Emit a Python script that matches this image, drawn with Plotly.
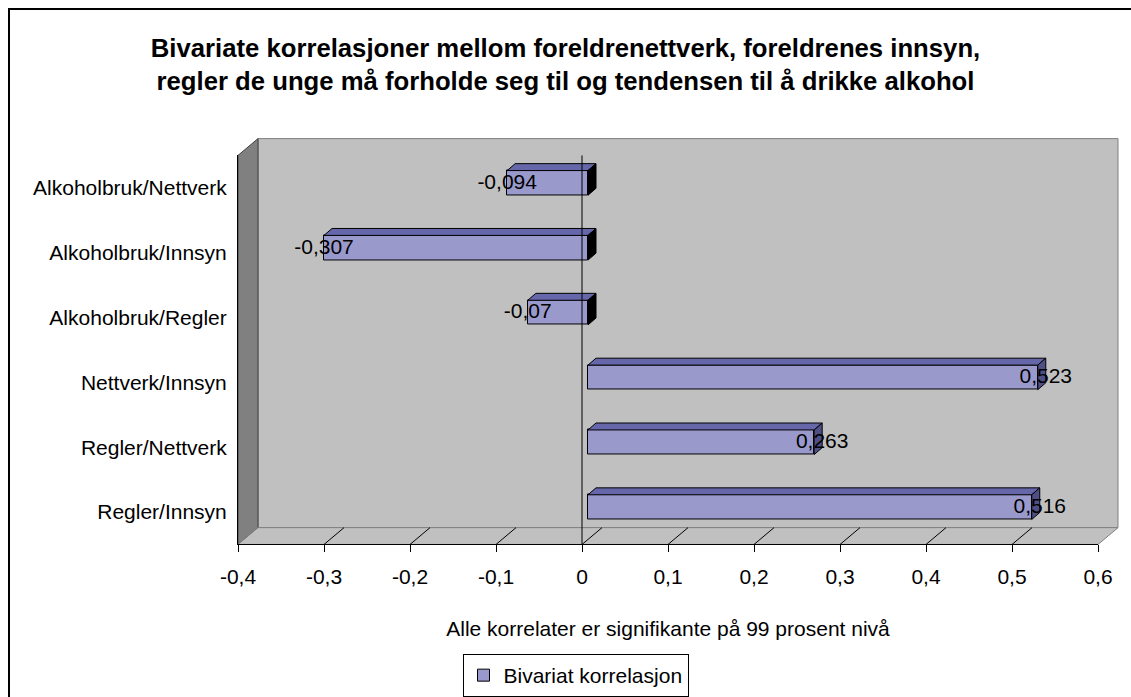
import plotly.graph_objects as go

# ---------------- data ----------------
categories = ["Alkoholbruk/Nettverk", "Alkoholbruk/Innsyn", "Alkoholbruk/Regler",
              "Nettverk/Innsyn", "Regler/Nettverk", "Regler/Innsyn"]
values = [-0.094, -0.307, -0.07, 0.523, 0.263, 0.516]
x_ticks = [-0.4, -0.3, -0.2, -0.1, 0, 0.1, 0.2, 0.3, 0.4, 0.5, 0.6]
x_tick_labels = [f"{t:g}".replace(".", ",") for t in x_ticks]
value_labels = [f"{v:g}".replace(".", ",") for v in values]
series_name = "Bivariat korrelasjon"
title_text = ("Bivariate korrelasjoner mellom foreldrenettverk, foreldrenes innsyn,<br>"
              "regler de unge må forholde seg til og tendensen til å drikke alkohol")
x_title = "Alle korrelater er signifikante på 99 prosent nivå"

# ---------------- geometry / style ----------------
W, H = 1131, 697
FONT = "Liberation Sans, Arial, sans-serif"
XMIN, XMAX = x_ticks[0], x_ticks[-1]
n = len(categories)
positions = list(range(n))
YRANGE = [n - 0.5, -0.5]
boundaries = [i - 0.5 for i in range(n + 1)]

FL, FR, FT, FB = 238, 1098, 157, 550      # front plane (px)
BX, BY = 20, -17                          # back wall offset (px)
SX, SY = 6, -5                            # bar plane offset (px)
DX, DY = 8, -7                            # bar depth (px)
BAR_W = 0.38

FRONT_C = "#9999CC"
TOP_C = "#6666AA"
SIDE_POS_C = "#4F4F85"
SIDE_NEG_C = "#000000"
WALL_C = "#C0C0C0"
SIDE_WALL_C = "#808080"


def xp(px):
    return px / W


def yp(py):
    return 1 - py / H


px_per_x = (FR - FL) / (XMAX - XMIN)
px_per_cat = (FB - FT) / n


def x_front(v):
    return FL + (v - XMIN) * px_per_x


def path(pts):
    return "M " + " L ".join(f"{xp(a):.5f},{yp(b):.5f}" for a, b in pts) + " Z"


dx = DX / px_per_x
dy = -DY / px_per_cat

fig = go.Figure()

# front faces of the bars
fig.add_trace(go.Bar(
    x=values, y=positions, orientation="h", width=BAR_W,
    marker=dict(color=FRONT_C, line=dict(color="black", width=1)),
    name=series_name, xaxis="x3", yaxis="y3", showlegend=True,
    hoverinfo="skip",
))

# top faces and side faces
top_x, top_y = [], []
pos_x, pos_y = [], []
neg_x, neg_y = [], []
for i, v in zip(positions, values):
    a, b = min(0, v), max(0, v)
    yt, yb = i - BAR_W / 2, i + BAR_W / 2
    top_x += [a, b, b + dx, a + dx, a, None]
    top_y += [yt, yt, yt - dy, yt - dy, yt, None]
    sx = [b, b + dx, b + dx, b, b, None]
    sy = [yt, yt - dy, yb - dy, yb, yt, None]
    if v > 0:
        pos_x += sx
        pos_y += sy
    else:
        neg_x += sx
        neg_y += sy

for xs, ys, col in [(top_x, top_y, TOP_C), (pos_x, pos_y, SIDE_POS_C), (neg_x, neg_y, SIDE_NEG_C)]:
    fig.add_trace(go.Scatter(
        x=xs, y=ys, mode="lines", fill="toself", fillcolor=col,
        line=dict(color="black", width=1), xaxis="x3", yaxis="y3",
        showlegend=False, hoverinfo="skip",
    ))

# data labels
lab_x = [v + dx if v > 0 else v for v in values]
fig.add_trace(go.Scatter(
    x=lab_x, y=[p + 0.01 for p in positions], mode="text", text=value_labels,
    textposition="middle center", textfont=dict(family=FONT, size=21, color="black"),
    xaxis="x3", yaxis="y3", showlegend=False, hoverinfo="skip",
))

# ---------------- decorations (walls / floor) ----------------
shapes = []
shapes.append(dict(type="rect", xref="paper", yref="paper",
                   x0=xp(9), y0=yp(9), x1=xp(W + 10), y1=yp(H + 10),
                   line=dict(color="black", width=2), fillcolor="white", layer="below"))
shapes.append(dict(type="rect", xref="paper", yref="paper",
                   x0=xp(FL + BX), y0=yp(FB + BY), x1=xp(FR + BX), y1=yp(FT + BY),
                   line=dict(color=SIDE_WALL_C, width=1), fillcolor=WALL_C, layer="below"))
shapes.append(dict(type="path", xref="paper", yref="paper",
                   path=path([(FL, FT), (FL + BX, FT + BY), (FL + BX, FB + BY), (FL, FB)]),
                   line=dict(color="#404040", width=1), fillcolor=SIDE_WALL_C, layer="below"))
shapes.append(dict(type="path", xref="paper", yref="paper",
                   path=path([(FL, FB), (FL + BX, FB + BY), (FR + BX, FB + BY), (FR, FB)]),
                   line=dict(color=SIDE_WALL_C, width=1), fillcolor=WALL_C, layer="below"))
for t in x_ticks[1:-1]:
    x0 = x_front(t)
    shapes.append(dict(type="line", xref="paper", yref="paper",
                       x0=xp(x0), y0=yp(FB), x1=xp(x0 + BX), y1=yp(FB + BY),
                       line=dict(color="black", width=1), layer="below"))
# category axis crossing at zero, drawn above the bars
shapes.append(dict(type="line", xref="x", yref="y domain", x0=0, x1=0, y0=0, y1=1,
                   line=dict(color="black", width=1), layer="above"))

axis_common = dict(showgrid=False, zeroline=False, fixedrange=True)

fig.update_layout(
    width=W, height=H, autosize=False,
    margin=dict(l=0, r=0, t=0, b=0, pad=0),
    paper_bgcolor="white", plot_bgcolor="rgba(0,0,0,0)",
    font=dict(family=FONT, size=21, color="black"),
    title=dict(text=title_text, x=0.5, xanchor="center", y=yp(57), yanchor="top",
               font=dict(family=FONT, size=25.7, color="black", weight="bold")),
    shapes=shapes,
    bargap=0,
    # front plane
    xaxis=dict(domain=[xp(FL), xp(FR)], range=[XMIN, XMAX], anchor="y",
               tickvals=x_ticks, ticktext=x_tick_labels, ticks="outside", ticklen=7,
               tickcolor="black", showline=True, linecolor="black",
               ticklabelstandoff=6,
               tickfont=dict(size=21, color="black"), automargin=False,
               title=dict(text=x_title, font=dict(size=21, color="black"), standoff=34),
               **axis_common),
    yaxis=dict(domain=[yp(FB), yp(FT)], range=YRANGE, anchor="x",
               tickvals=positions, ticktext=categories, ticks="",
               showline=True, linecolor="black", ticklabelstandoff=6, automargin=False,
               tickfont=dict(size=21, color="black"), **axis_common),
    # back wall grid
    xaxis2=dict(domain=[xp(FL + BX), xp(FR + BX)], range=[XMIN, XMAX], anchor="y2",
                tickvals=x_ticks[1:-1], showticklabels=False, ticks="",
                showgrid=True, gridcolor="black", gridwidth=1, zeroline=False,
                showline=False, fixedrange=True),
    yaxis2=dict(domain=[yp(FB + BY), yp(FT + BY)], range=YRANGE, anchor="x2",
                showticklabels=False, ticks="", showline=False, **axis_common),
    # bar plane
    xaxis3=dict(domain=[xp(FL + SX), xp(FR + SX)], range=[XMIN, XMAX], anchor="y3",
                showticklabels=False, ticks="", showline=False, **axis_common),
    yaxis3=dict(domain=[yp(FB + SY), yp(FT + SY)], range=YRANGE, anchor="x3",
                showticklabels=False, ticks="", showline=False, **axis_common),
    # tick marks at category boundaries, left axis
    yaxis4=dict(overlaying="y", anchor="x", side="left", range=YRANGE,
                tickvals=boundaries, ticks="outside", ticklen=8, tickcolor="black",
                showticklabels=False, showline=False, **axis_common),
    # category axis crossing at 0
    yaxis5=dict(overlaying="y", anchor="free", position=xp(x_front(0)), side="right",
                range=YRANGE, tickvals=boundaries, ticks="outside", ticklen=8,
                tickcolor="black", showticklabels=False, showline=True,
                linecolor="black", **axis_common),
    legend=dict(x=xp(575.5), xanchor="center", y=yp(661), yanchor="top",
                orientation="h", bordercolor="black", borderwidth=1, bgcolor="white",
                font=dict(size=21, color="black")),
    showlegend=True,
)

fig.write_html(
    "out.html",
    config={"responsive": False, "displayModeBar": False},
    post_script="document.body.style.margin='0';document.body.style.overflow='hidden';",
)
